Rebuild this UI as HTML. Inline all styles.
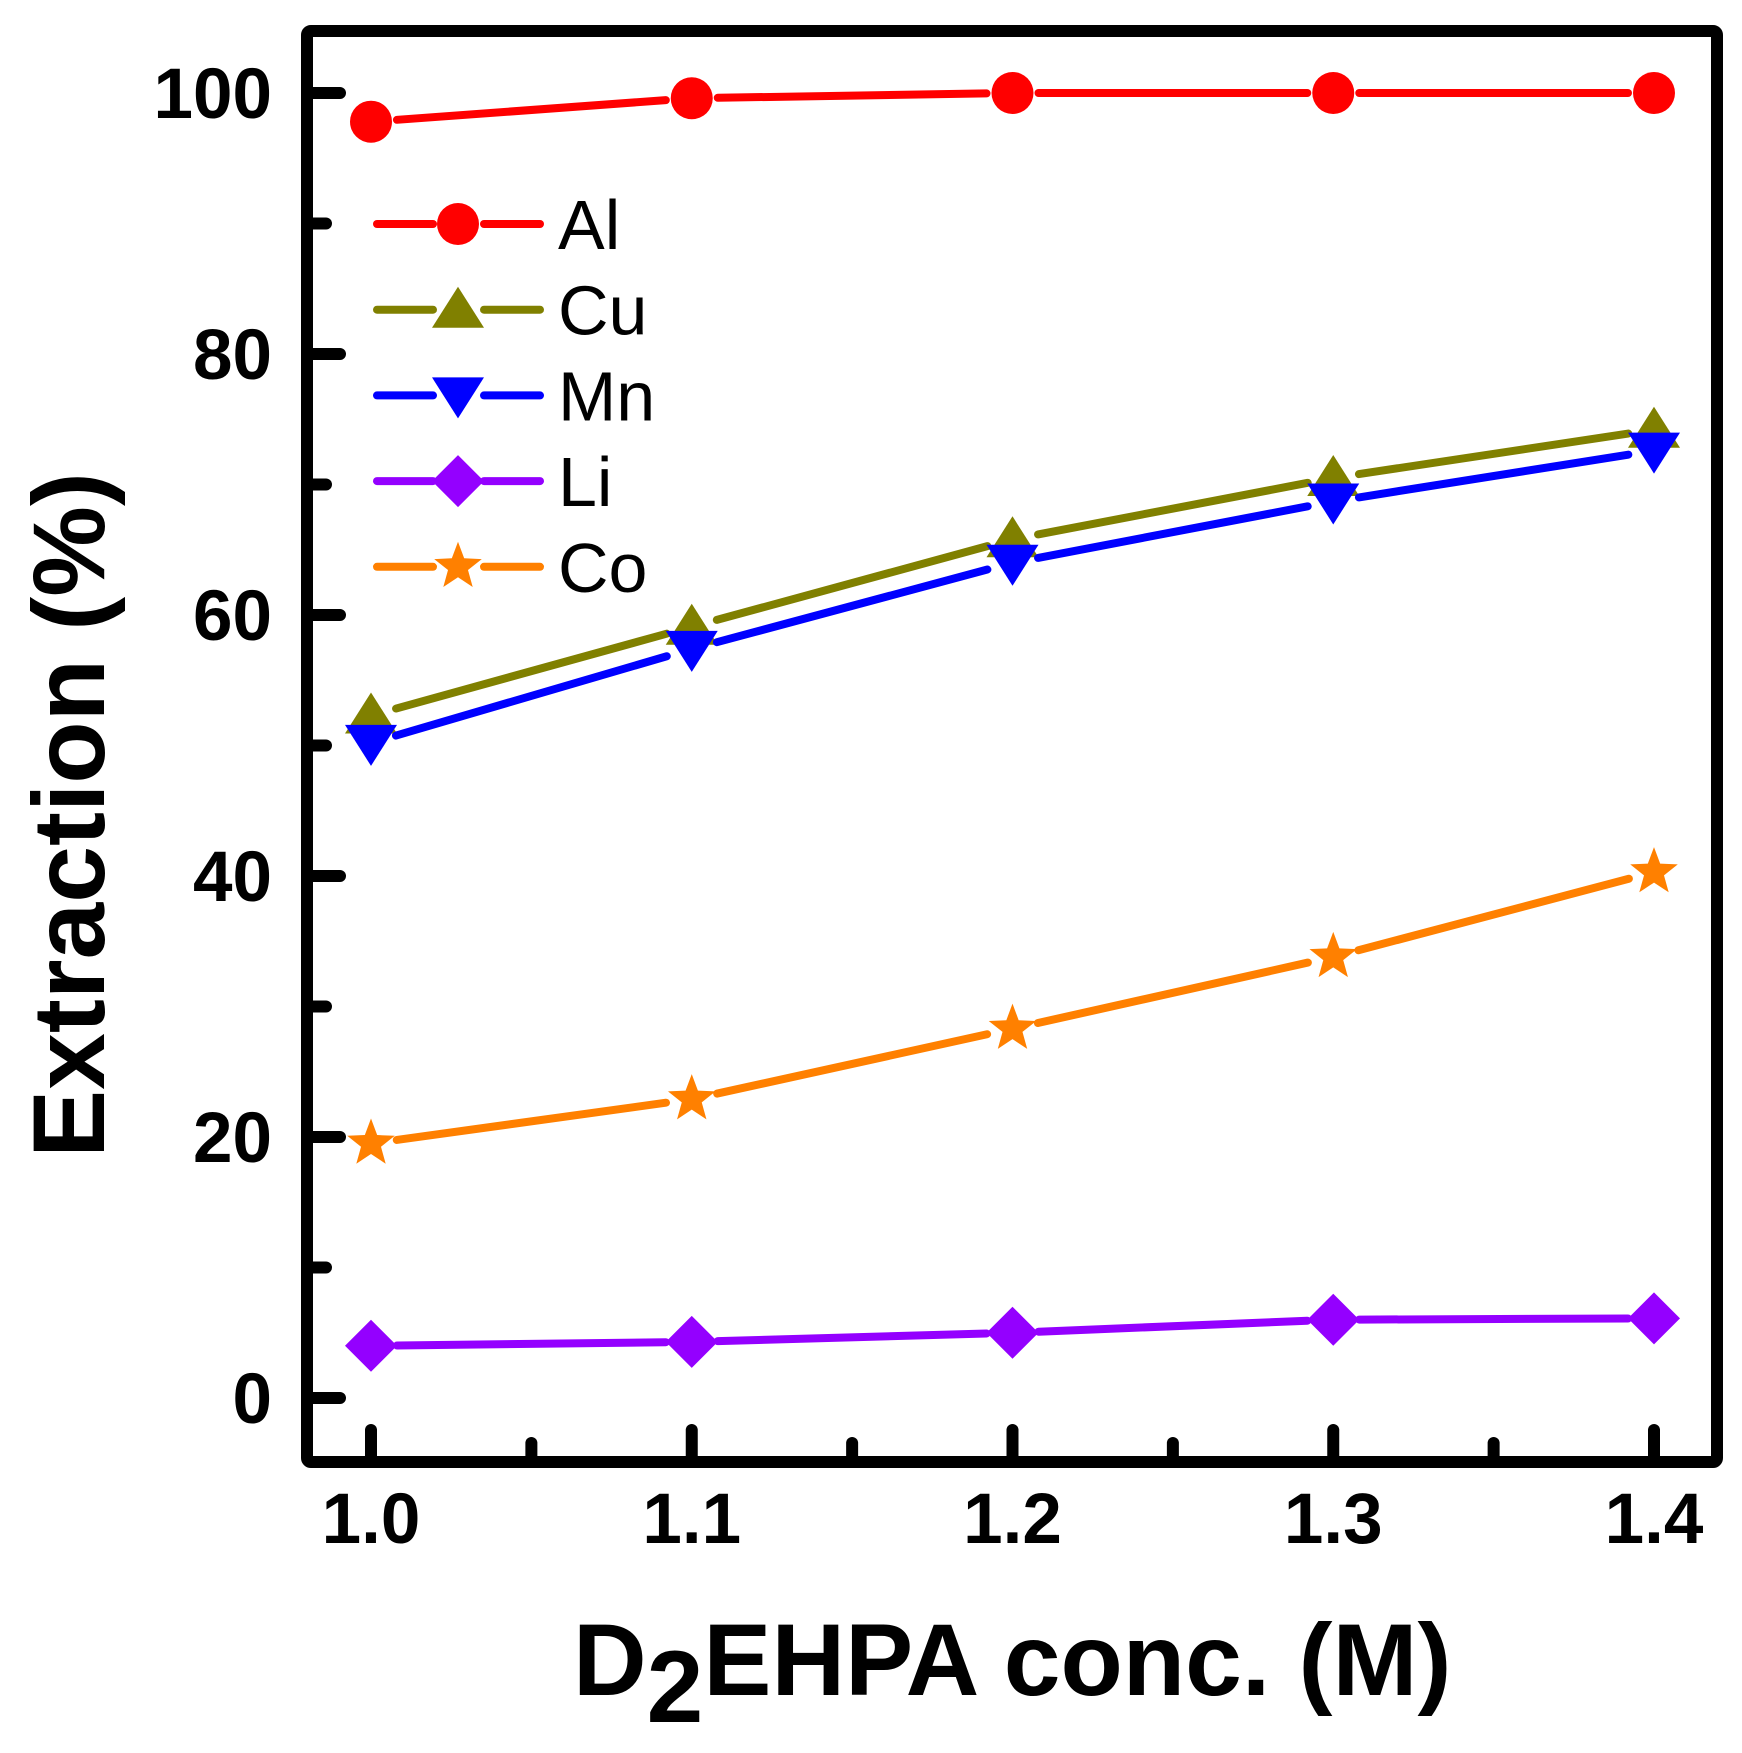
<!DOCTYPE html>
<html><head><meta charset="utf-8"><style>
html,body{margin:0;padding:0;background:#fff;}
svg{display:block;font-family:"Liberation Sans",Arial,sans-serif;}
</style></head><body>
<svg id="chart" width="1742" height="1753" viewBox="0 0 1742 1753" xmlns="http://www.w3.org/2000/svg">
<g id="marks"></g>
<rect x="307" y="31" width="1410" height="1431" fill="none" stroke="#000" stroke-width="12" rx="4"/>
<g id="axes"></g>
<text x="573" y="1695" font-size="102" font-weight="bold">D<tspan dy="27">2</tspan><tspan dy="-27">EHPA conc. (M)</tspan></text>
<text transform="translate(104,815) rotate(-90)" text-anchor="middle" font-size="102" font-weight="bold">Extraction (%)</text>
<g id="legend"></g>
</svg>
<script>
const categories = [1.0, 1.1, 1.2, 1.3, 1.4];
const alValues = [97.8, 99.6, 100, 100, 100];
const cuValues = [52.3, 59.1, 65.8, 70.5, 74.2];
const mnValues = [50.2, 57.4, 64.0, 68.7, 72.6];
const liValues = [4.0, 4.3, 5.0, 6.0, 6.1];
const coValues = [19.5, 22.9, 28.3, 33.8, 40.3];
const seriesNames = ["Al", "Cu", "Mn", "Li", "Co"];
const yTickLabels = [0, 20, 40, 60, 80, 100];
const xTickLabels = ["1.0", "1.1", "1.2", "1.3", "1.4"];

const NS = "http://www.w3.org/2000/svg";
function xs(v){ return 371 + (v - 1.0) / 0.1 * 320.75; }
function ys(v){ return 1398 - v * 13.05; }
function mk(tag, attrs, parent){ const e = document.createElementNS(NS, tag); for (const k in attrs) e.setAttribute(k, attrs[k]); parent.appendChild(e); return e; }

const colors = ["#ff0000", "#808000", "#0000ff", "#9400ff", "#ff8000"];
const shapes = ["circle", "up", "down", "diamond", "star"];
const allVals = [alValues, cuValues, mnValues, liValues, coValues];

function marker(shape, cx, cy, color, parent){
  let e;
  if (shape === "circle") e = mk("circle", {cx: cx, cy: cy, r: 21, fill: color}, parent);
  else {
    let pts;
    if (shape === "up") pts = [[0,-23],[26,18],[-26,18]];
    else if (shape === "down") pts = [[0,23],[26,-18],[-26,-18]];
    else if (shape === "diamond") pts = [[0,-26],[26,0],[0,26],[-26,0]];
    else { pts = []; for (let i = 0; i < 10; i++){ const r = i % 2 ? 10.5 : 25; const a = -Math.PI/2 + i*Math.PI/5; pts.push([r*Math.cos(a), r*Math.sin(a)]); } }
    e = mk("polygon", {points: pts.map(p => (cx+p[0]) + "," + (cy+p[1])).join(" "), fill: color}, parent);
  }
  return e;
}

const marks = document.getElementById("marks");
allVals.forEach((vals, si) => {
  const g = mk("g", {}, marks);
  
  
  for (let i = 0; i < categories.length - 1; i++){
    const x1 = xs(categories[i]), y1 = ys(vals[i]), x2 = xs(categories[i+1]), y2 = ys(vals[i+1]);
    const L = Math.hypot(x2-x1, y2-y1), gap = 26;
    const ux = (x2-x1)/L, uy = (y2-y1)/L;
    const ln = mk("line", {x1: x1+ux*gap, y1: y1+uy*gap, x2: x2-ux*gap, y2: y2-uy*gap, stroke: colors[si], "stroke-width": 8, "stroke-linecap": "round"}, g);
    
    
  }
  categories.forEach((c, i) => {
    const m = marker(shapes[si], xs(c), ys(vals[i]), colors[si], g);
    
    
  });
});

const axes = document.getElementById("axes");
yTickLabels.forEach(v => {
  const y = ys(v);
  const t = mk("line", {x1: 313, y1: y, x2: 340, y2: y, stroke: "#000", "stroke-width": 12, "stroke-linecap": "round"}, axes);
  
  
  const lb = mk("text", {x: 272, y: y + 25, "text-anchor": "end", "font-size": 71, "font-weight": "bold"}, axes);
  lb.textContent = v;
  
  
  if (v < 100){
    const m = mk("line", {x1: 313, y1: ys(v+10), x2: 326, y2: ys(v+10), stroke: "#000", "stroke-width": 12, "stroke-linecap": "round"}, axes);
    
    
  }
});
categories.forEach((c, i) => {
  const x = xs(c);
  const t = mk("line", {x1: x, y1: 1456, x2: x, y2: 1430, stroke: "#000", "stroke-width": 12, "stroke-linecap": "round"}, axes);
  
  
  const lb = mk("text", {x: x, y: 1543, "text-anchor": "middle", "font-size": 71, "font-weight": "bold"}, axes);
  lb.textContent = xTickLabels[i];
  
  
  if (i < categories.length - 1){
    const mx = xs(c + 0.05);
    const m = mk("line", {x1: mx, y1: 1456, x2: mx, y2: 1443, stroke: "#000", "stroke-width": 12, "stroke-linecap": "round"}, axes);
    
    
  }
});

const legend = document.getElementById("legend");
seriesNames.forEach((n, si) => {
  const y = 224 + si * 85.7;
  const g = mk("g", {}, legend);
  
  
  mk("line", {x1: 377, y1: y, x2: 433, y2: y, stroke: colors[si], "stroke-width": 8, "stroke-linecap": "round"}, g);
  mk("line", {x1: 484, y1: y, x2: 540, y2: y, stroke: colors[si], "stroke-width": 8, "stroke-linecap": "round"}, g);
  marker(shapes[si], 458, y, colors[si], g);
  const t = mk("text", {x: 558, y: y + 25, "font-size": 70}, g);
  t.textContent = n;
});
</script>
</body></html>
